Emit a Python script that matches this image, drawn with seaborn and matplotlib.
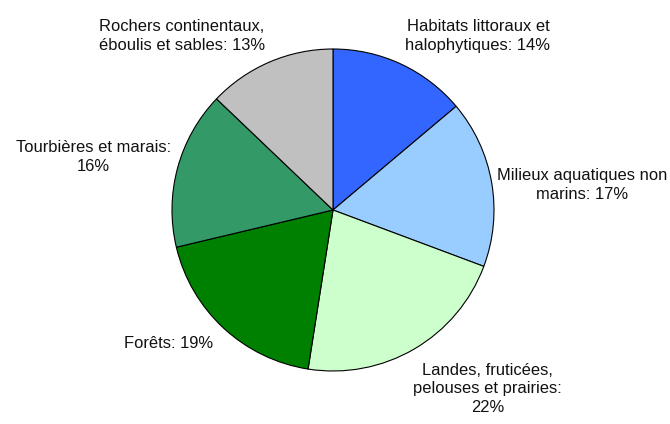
import matplotlib
matplotlib.use("Agg")
import matplotlib.pyplot as plt
import seaborn as sns

# habitat types and their share (%)
habitats = ["Habitats littoraux et\nhalophytiques",
            "Milieux aquatiques non\nmarins",
            "Landes, fruticées,\npelouses et prairies:\n22%",
            "Forêts",
            "Tourbières et marais:\n16%",
            "Rochers continentaux,\néboulis et sables"]
shares = [14, 17, 22, 19, 16, 13]
colors = ["#3366FF", "#99CCFF", "#CCFFCC", "#008000", "#339966", "#C0C0C0"]

# label text positions (in pie radius units), Excel-like placement
label_pos = [(0.90, 1.08), (1.55, 0.155), (0.96, -1.11),
             (-1.02, -0.83), (-1.49, 0.33), (-0.94, 1.08)]

sns.set_theme(style="white")
plt.rcParams["font.family"] = ["Liberation Sans", "DejaVu Sans"]

fig = plt.figure(figsize=(6.70, 4.24), dpi=100)
ax = fig.add_axes([0, 0, 1, 1])

labels = []
for name, v in zip(habitats, shares):
    if name.endswith("%"):
        labels.append(name)
    else:
        labels.append("%s: %d%%" % (name, v))

wedges, texts = ax.pie(shares, colors=colors, labels=labels, startangle=90, counterclock=False,
                       wedgeprops=dict(edgecolor="black", linewidth=0.8),
                       textprops=dict(fontsize=11.9, color="#111111"))
for t, (x, y) in zip(texts, label_pos):
    t.set_position((x, y))
    t.set_ha("center")
    t.set_va("center")
    t.set_multialignment("center")
    t.set_linespacing(1.3)

r = 161.0
ax.set_aspect("auto")
ax.set_xlim(-333 / r, (670 - 333) / r)
ax.set_ylim(-(424 - 210) / r, 210 / r)
ax.axis("off")

fig.savefig("out.png", dpi=100, facecolor="white")
